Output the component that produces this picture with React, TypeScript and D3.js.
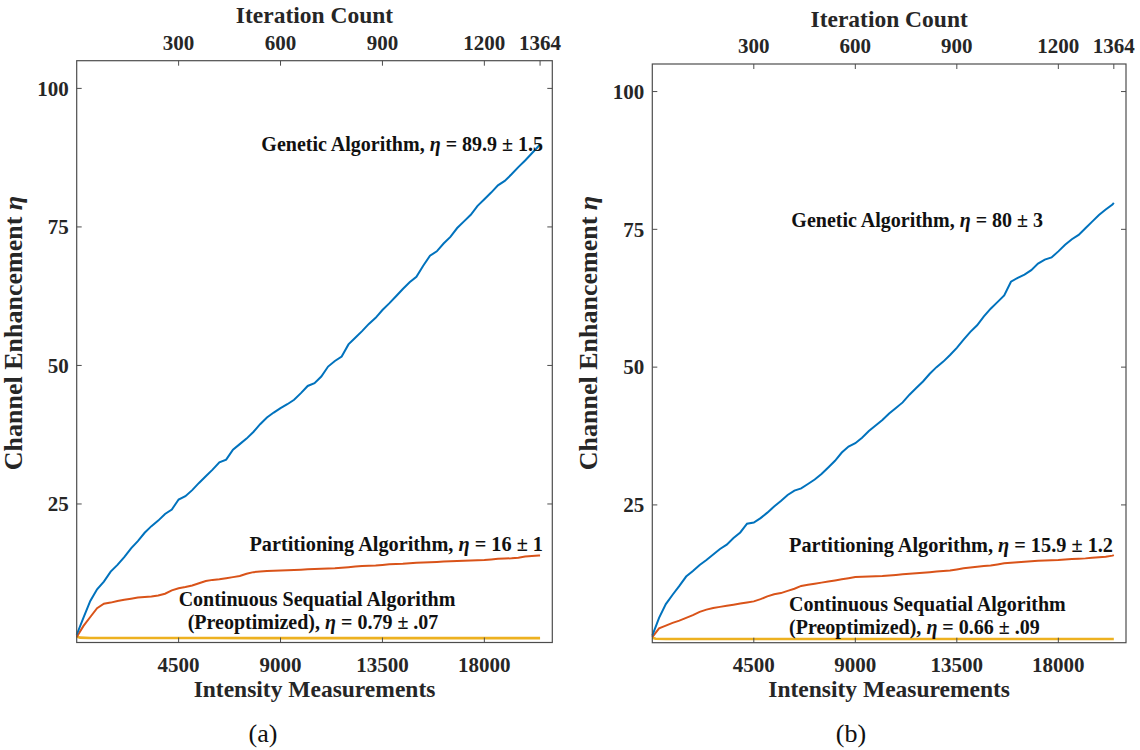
import * as d3 from "d3";

// iteration index of every sample (15 intensity measurements per iteration)
const iterations = [
  0, 20, 40, 60, 80, 100, 120, 140, 160, 180, 200, 220, 240, 260, 280, 300, 320, 340, 360, 380,
  400, 420, 440, 460, 480, 500, 520, 540, 560, 580, 600, 620, 640, 660, 680, 700, 720, 740, 760, 780,
  800, 820, 840, 860, 880, 900, 920, 940, 960, 980, 1000, 1020, 1040, 1060, 1080, 1100, 1120, 1140, 1160, 1180,
  1200, 1220, 1240, 1260, 1280, 1300, 1320, 1340, 1360, 1364,
];
const measPerIteration = 15;

const geneticA = [
  1.4, 4.5, 7.5, 9.6, 11.0, 12.8, 14.0, 15.4, 17.0, 18.3, 19.8, 21.0, 22.0, 23.2, 24.0, 25.8, 26.4, 27.5, 28.8, 30.0,
  31.2, 32.5, 33.0, 34.8, 35.8, 36.8, 38.0, 39.4, 40.6, 41.5, 42.3, 43.0, 43.8, 45.0, 46.3, 46.8, 48.0, 49.8, 50.8, 51.6,
  53.8, 55.0, 56.2, 57.5, 58.6, 60.0, 61.2, 62.5, 63.8, 65.0, 66.0, 68.0, 69.8, 70.6, 72.0, 73.2, 74.8, 76.0, 77.2, 78.8,
  80.0, 81.2, 82.5, 83.3, 84.5, 85.8, 87.0, 88.3, 89.6, 89.9,
];
const partitionA = [
  1.0, 3.0, 4.6, 6.2, 7.0, 7.2, 7.5, 7.7, 7.9, 8.1, 8.2, 8.3, 8.5, 8.8, 9.4, 9.8, 10.0, 10.3, 10.7, 11.1,
  11.3, 11.4, 11.6, 11.8, 12.0, 12.4, 12.7, 12.8, 12.9, 12.95, 13.0, 13.05, 13.1, 13.15, 13.2, 13.25, 13.3, 13.35, 13.4, 13.5,
  13.6, 13.7, 13.8, 13.85, 13.9, 14.0, 14.1, 14.15, 14.2, 14.3, 14.4, 14.45, 14.5, 14.55, 14.6, 14.65, 14.7, 14.75, 14.8, 14.85,
  14.9, 15.0, 15.1, 15.15, 15.2, 15.3, 15.5, 15.6, 15.7, 15.7,
];
const geneticB = [
  1.3, 4.5, 7.0, 8.7, 10.3, 12.0, 13.0, 14.1, 15.0, 16.0, 17.0, 17.8, 19.0, 20.0, 21.6, 21.8, 22.6, 23.6, 24.7, 25.7,
  26.8, 27.6, 28.0, 28.8, 29.6, 30.6, 31.8, 33.0, 34.5, 35.6, 36.2, 37.2, 38.4, 39.4, 40.4, 41.6, 42.6, 43.6, 45.0, 46.2,
  47.4, 48.8, 50.0, 51.0, 52.2, 53.5, 55.0, 56.4, 57.6, 59.2, 60.6, 61.8, 63.0, 65.5, 66.2, 66.8, 67.6, 68.8, 69.5, 69.9,
  71.0, 72.2, 73.2, 74.0, 75.2, 76.4, 77.6, 78.6, 79.5, 79.8,
];
const partitionB = [
  1.0, 2.6, 3.1, 3.6, 4.0, 4.5, 5.0, 5.6, 6.0, 6.3, 6.5, 6.7, 6.9, 7.1, 7.3, 7.5, 7.9, 8.4, 8.8, 9.0,
  9.4, 9.8, 10.3, 10.5, 10.7, 10.9, 11.1, 11.3, 11.5, 11.7, 11.9, 11.95, 12.0, 12.05, 12.1, 12.2, 12.3, 12.4, 12.5, 12.6,
  12.7, 12.8, 12.9, 13.0, 13.1, 13.3, 13.5, 13.65, 13.8, 13.9, 14.0, 14.2, 14.4, 14.5, 14.6, 14.7, 14.8, 14.85, 14.9, 14.95,
  15.0, 15.1, 15.2, 15.25, 15.3, 15.4, 15.5, 15.6, 15.8, 15.9,
];

// continuous sequential algorithm is almost flat, sampled more sparsely
const csIterations = [0, 10, 40, 400, 900, 1364];
const continuousA = [1.1, 0.88, 0.82, 0.8, 0.79, 0.79];
const continuousB = [0.9, 0.72, 0.68, 0.67, 0.66, 0.66];

const measTicks = [4500, 9000, 13500, 18000];
const iterTicks = [300, 600, 900, 1200, 1364];
const etaTicks = [25, 50, 75, 100];

const BLUE = "#0072BD";
const ORANGE = "#D95319";
const YELLOW = "#EDB120";
const AXIS = "#4d4d4d";
const FONT = '"Liberation Serif"';

const panels = [
  {
    name: "(a)", nameX: 263,
    left: 76.7, right: 552.3, top: 60.7, bottom: 642.5,
    genetic: geneticA, partition: partitionA, continuous: continuousA,
    gaText: "89.9 \u00b1 1.5", paText: "16 \u00b1 1", csText: "0.79 \u00b1 .07",
    gaPos: [543, 151, "end"],
    paPos: [543, 551, "end"],
    csPos: [317, 606, "middle"], cs2Pos: [313, 629, "middle"],
  },
  {
    name: "(b)", nameX: 851,
    left: 652.3, right: 1126, top: 64, bottom: 642.7,
    genetic: geneticB, partition: partitionB, continuous: continuousB,
    gaText: "80 \u00b1 3", paText: "15.9 \u00b1 1.2", csText: "0.66 \u00b1 .09",
    gaPos: [1043, 227, "end"],
    paPos: [1113, 551.5, "end"],
    csPos: [789, 611, "start"], cs2Pos: [789, 634, "start"],
  },
];

function Label({ pos, before, value, size }) {
  return (
    <text
      x={pos[0]}
      y={pos[1]}
      textAnchor={pos[2]}
      fontFamily={FONT}
      fontWeight="bold"
      fontSize={size}
      fill="#111"
    >
      {before}
      {value !== null && (
        <>
          <tspan fontStyle="italic">{"\u03b7"}</tspan>
          {" = " + value}
        </>
      )}
    </text>
  );
}

function Panel({ p }) {
  const x = d3.scaleLinear().domain([0, 21000]).range([p.left, p.right]);
  const xTop = d3.scaleLinear().domain([0, 1400]).range([p.left, p.right]);
  const y = d3.scaleLinear().domain([0, 105]).range([p.bottom, p.top]);

  const line = d3
    .line()
    .x((d) => x(d[0] * measPerIteration))
    .y((d) => y(d[1]));

  const cx = (p.left + p.right) / 2;
  const tickText = { fontFamily: FONT, fontWeight: "bold", fontSize: 21, fill: "#262626" };
  const titleText = { fontFamily: FONT, fontWeight: "bold", fontSize: 23.5, fill: "#262626" };

  return (
    <g>
      <path
        d={line(csIterations.map((it, i) => [it, p.continuous[i]]))}
        fill="none"
        stroke={YELLOW}
        strokeWidth={2.6}
      />
      <path
        d={line(iterations.map((it, i) => [it, p.partition[i]]))}
        fill="none"
        stroke={ORANGE}
        strokeWidth={2}
      />
      <path
        d={line(iterations.map((it, i) => [it, p.genetic[i]]))}
        fill="none"
        stroke={BLUE}
        strokeWidth={2}
      />

      {/* bottom axis: intensity measurements */}
      {measTicks.map((v) => (
        <g key={"b" + v}>
          <line x1={x(v)} x2={x(v)} y1={p.bottom} y2={p.bottom - 5} stroke={AXIS} />
          <text x={x(v)} y={p.bottom + 29.5} textAnchor="middle" {...tickText}>
            {v}
          </text>
        </g>
      ))}
      {/* top axis: iteration count */}
      {iterTicks.map((v) => (
        <g key={"t" + v}>
          <line x1={xTop(v)} x2={xTop(v)} y1={p.top} y2={p.top + 5} stroke={AXIS} />
          <text x={xTop(v)} y={p.top - 11} textAnchor="middle" {...tickText}>
            {v}
          </text>
        </g>
      ))}
      {/* left / right axis */}
      {etaTicks.map((v) => (
        <g key={"l" + v}>
          <line x1={p.left} x2={p.left + 5} y1={y(v)} y2={y(v)} stroke={AXIS} />
          <line x1={p.right} x2={p.right - 5} y1={y(v)} y2={y(v)} stroke={AXIS} />
          <text x={p.left - 8} y={y(v) + 7.3} textAnchor="end" {...tickText}>
            {v}
          </text>
        </g>
      ))}

      <rect
        x={p.left}
        y={p.top}
        width={p.right - p.left}
        height={p.bottom - p.top}
        fill="none"
        stroke={AXIS}
        strokeWidth={1.2}
      />

      <text x={cx} y={p.top - 37.5} textAnchor="middle" {...titleText}>
        Iteration Count
      </text>
      <text x={cx} y={697} textAnchor="middle" {...titleText}>
        Intensity Measurements
      </text>
      <text
        transform={`translate(${p.left - 55},333) rotate(-90)`}
        textAnchor="middle"
        {...titleText}
        fontSize={26}
      >
        Channel Enhancement <tspan fontStyle="italic">{"\u03b7"}</tspan>
      </text>

      <text x={p.nameX} y={742} textAnchor="middle" fontFamily={FONT} fontSize={26} fill="#111">
        {p.name}
      </text>

      <Label pos={p.gaPos} before="Genetic Algorithm, " value={p.gaText} size={20} />
      <Label pos={p.paPos} before="Partitioning Algorithm, " value={p.paText} size={20.3} />
      <Label pos={p.csPos} before="Continuous Sequatial Algorithm" value={null} size={20} />
      <Label pos={p.cs2Pos} before="(Preoptimized), " value={p.csText} size={20} />
    </g>
  );
}

export default function App() {
  return (
    <div style={{ position: "absolute", left: 0, top: 0 }}>
      <svg width={1140} height={750} style={{ display: "block", background: "#fff" }}>
        {panels.map((p) => (
          <Panel key={p.name} p={p} />
        ))}
      </svg>
    </div>
  );
}
